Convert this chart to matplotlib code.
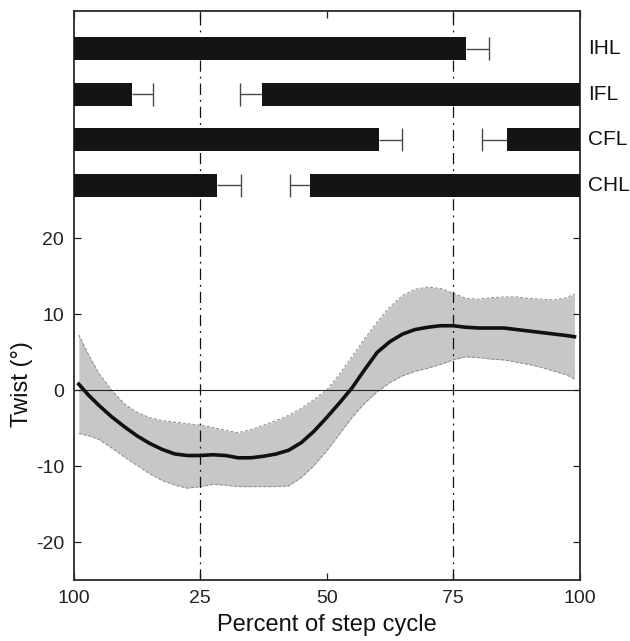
import numpy as np
import matplotlib
matplotlib.use("Agg")
import matplotlib.pyplot as plt

plt.rcParams["font.family"] = ["Liberation Sans", "DejaVu Sans"]
plt.rcParams["axes.unicode_minus"] = False

# gait diagram: stance phase per limb (percent of step cycle)
limbs = ["IHL", "IFL", "CFL", "CHL"]
limb_y = [45, 39, 33, 27]
touchdown = [0.0, 37.2, 85.6, 46.7]
touchdown_sd = [0.0, 4.4, 4.8, 4.0]
liftoff = [77.5, 11.6, 60.4, 28.4]
liftoff_sd = [4.6, 4.0, 4.4, 4.7]

# twist curve (mean and +/- band)
cycle = [1, 3, 5, 7.5, 10, 12.5, 15, 17.5, 20, 22.5, 25, 27.5, 30, 32.5, 35, 37.5,
         40, 42.5, 45, 47.5, 50, 52.5, 55, 57.5, 60, 62.5, 65, 67.5, 70, 72.5,
         75, 77.5, 80, 82.5, 85, 87.5, 90, 92.5, 95, 97.5, 99]
twist_mean = [0.8, -0.7, -2.0, -3.5, -4.8, -6.0, -7.0, -7.8, -8.4, -8.6, -8.6, -8.5,
              -8.6, -8.9, -8.9, -8.7, -8.4, -7.9, -6.9, -5.4, -3.6, -1.7, 0.3, 2.7,
              5.0, 6.4, 7.4, 8.0, 8.3, 8.5, 8.5, 8.3, 8.2, 8.2, 8.2, 8.0, 7.8, 7.6,
              7.4, 7.2, 7.05]
twist_upper = [7.3, 4.6, 2.2, 0.0, -1.8, -2.9, -3.6, -4.0, -4.2, -4.4, -4.6, -4.9,
               -5.3, -5.6, -5.2, -4.6, -4.0, -3.3, -2.4, -1.2, 0.0, 2.1, 4.4, 6.8,
               9.0, 11.0, 12.5, 13.3, 13.6, 13.4, 12.8, 12.1, 12.0, 12.2, 12.3,
               12.3, 12.1, 12.0, 11.9, 12.2, 12.7]
twist_lower = [-5.7, -6.0, -6.5, -7.6, -8.8, -9.9, -11.0, -11.9, -12.5, -12.9, -12.7,
               -12.4, -12.5, -12.7, -12.7, -12.7, -12.7, -12.6, -11.5, -9.9, -8.0,
               -5.8, -3.6, -1.7, -0.2, 1.0, 1.9, 2.5, 2.9, 3.4, 4.0, 4.4, 4.3, 4.1,
               4.0, 3.7, 3.4, 3.0, 2.5, 2.0, 1.45]

x_ticks = [0, 25, 50, 75, 100]
x_tick_labels = ["100", "25", "50", "75", "100"]
y_ticks = [-20, -10, 0, 10, 20]

BAR_H = 3.0
BAR_COLOR = "#141414"
ERR_COLOR = "#4a4a4a"

fig = plt.figure(figsize=(6.3, 6.41), dpi=100)
ax = fig.add_axes([0.117, 0.0952, 0.803, 0.888])

# shaded band
ax.fill_between(cycle, twist_lower, twist_upper, color="#c6c7c7", lw=0, zorder=1)
ax.plot(cycle, twist_upper, color="#8a8a8a", lw=0.7, ls=(0, (3, 2)), zorder=2)
ax.plot(cycle, twist_lower, color="#8a8a8a", lw=0.7, ls=(0, (3, 2)), zorder=2)
ax.plot(cycle, twist_mean, color="#111111", lw=2.6, zorder=4)

ax.axhline(0, color="#222222", lw=0.8, zorder=3)
for xv in [25, 75]:
    ax.axvline(xv, color="#111111", lw=0.9, ls=(0, (9, 4, 1.5, 4)), zorder=3)

# gait bars
for name, y, td, tds, lo, los in zip(limbs, limb_y, touchdown, touchdown_sd, liftoff, liftoff_sd):
    if td < lo:
        ax.barh(y, lo - td, left=td, height=BAR_H, color=BAR_COLOR, zorder=5)
    else:
        ax.barh(y, lo, left=0, height=BAR_H, color=BAR_COLOR, zorder=5)
        ax.barh(y, 100 - td, left=td, height=BAR_H, color=BAR_COLOR, zorder=5)
    if los > 0:
        ax.hlines(y, lo, lo + los, color=ERR_COLOR, lw=1.0, zorder=5)
        ax.vlines(lo + los, y - BAR_H / 2, y + BAR_H / 2, color=ERR_COLOR, lw=1.0, zorder=5)
    if tds > 0:
        ax.hlines(y, td - tds, td, color=ERR_COLOR, lw=1.0, zorder=5)
        ax.vlines(td - tds, y - BAR_H / 2, y + BAR_H / 2, color=ERR_COLOR, lw=1.0, zorder=5)
    ax.text(101.6, y, name, ha="left", va="center", fontsize=15, color="#111111",
            clip_on=False)

ax.set_xlim(0, 100)
ax.set_ylim(-25, 50)
ax.set_xticks(x_ticks)
ax.set_xticklabels(x_tick_labels)
ax.set_yticks(y_ticks)
ax.tick_params(direction="in", top=True, right=True, length=5, width=0.9,
               labelsize=14, colors="#222222", pad=7)
ax.set_xlabel("Percent of step cycle", fontsize=17, color="#111111", labelpad=5)
ax.set_ylabel("Twist (°)", fontsize=17, color="#111111")
ax.yaxis.set_label_coords(-0.080, 0.345)

for spine in ax.spines.values():
    spine.set_linewidth(1.3)
    spine.set_color("#2a2a2a")

fig.savefig("out.png", dpi=100)
